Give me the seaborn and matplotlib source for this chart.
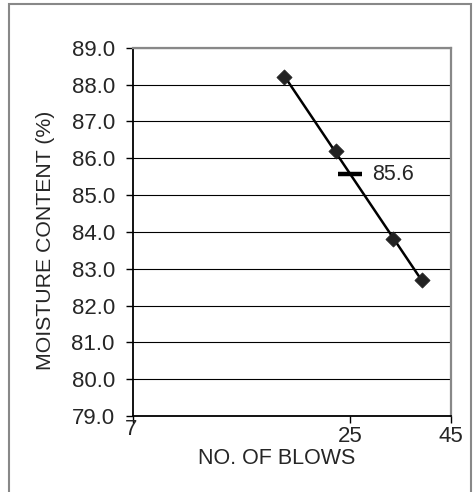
import numpy as np
import pandas as pd
import matplotlib
matplotlib.use("Agg")
import matplotlib.pyplot as plt
import matplotlib.transforms as mtransforms
from matplotlib.patches import Rectangle
import seaborn as sns

sns.set_style("white")
plt.rcParams['font.family'] = ['Liberation Sans', 'DejaVu Sans']

# liquid limit test
blows = [17, 23, 32, 38]
moisture = [88.2, 86.2, 83.8, 82.7]
target_blows = 25
x_ticks = [7, 25, 45]
y_ticks = np.arange(79, 89.1, 1.0)

df = pd.DataFrame({"blows": blows, "moisture": moisture})

# semi-log trend line
b, a = np.polyfit(np.log10(df["blows"]), df["moisture"], 1)
trend = pd.DataFrame({"blows": [min(blows), max(blows)]})
trend["moisture"] = a + b * np.log10(trend["blows"])
ll = a + b * np.log10(target_blows)

fig = plt.figure(figsize=(4.73, 4.92), dpi=100)
ax = fig.add_axes([0.281, 0.1545, 0.672, 0.7485])

sns.lineplot(data=trend, x="blows", y="moisture", ax=ax, color="black", lw=1.8)
sns.scatterplot(data=df, x="blows", y="moisture", ax=ax, marker="D", s=60,
                color="#222222", edgecolor="#222222", linewidth=0.5, zorder=5)
ax.plot([target_blows], [ll], marker="_", ms=17, mew=3.2, color="black", zorder=6)
ax.annotate(f"{ll:.1f}", (target_blows, ll), xytext=(16, 0), textcoords="offset points",
            va="center", ha="left", fontsize=15.5)

ax.set_xscale("log")
ax.set_xlim(7, 45)
ax.set_ylim(79, 89)
ax.set_xticks(x_ticks)
ax.set_xticklabels([str(t) for t in x_ticks])
ax.xaxis.set_minor_locator(matplotlib.ticker.NullLocator())
ax.set_yticks(y_ticks)
ax.set_yticklabels([f"{t:.1f}" for t in y_ticks])

ax.grid(True, axis="y", color="black", lw=0.8)
ax.grid(False, axis="x")
ax.set_axisbelow(True)

ax.tick_params(axis="y", direction="out", length=5, width=1, color="black",
               labelsize=16, pad=8, left=True)
ax.tick_params(axis="x", direction="out", length=5, width=1, color="black",
               labelsize=16, pad=2, bottom=True)

# excel puts the first log label higher
lab7 = ax.get_xticklabels()[0]
lab7.set_transform(lab7.get_transform() + mtransforms.ScaledTranslation(-1 / 72, 5 / 72, fig.dpi_scale_trans))

for s in ["left", "bottom"]:
    ax.spines[s].set_color("black")
    ax.spines[s].set_linewidth(1.3)
for s in ["top", "right"]:
    ax.spines[s].set_color("#888888")
    ax.spines[s].set_linewidth(1.6)

ax.set_xlabel("NO. OF BLOWS", fontsize=15.5)
ax.set_ylabel("MOISTURE CONTENT (%)", fontsize=15.3)
ax.xaxis.set_label_coords(0.453, -0.087)
ax.yaxis.set_label_coords(-0.245, 0.476)

fig.patches.append(Rectangle((9 / 473, -0.05), 462 / 473, 1 - 3.5 / 492 + 0.05,
                             transform=fig.transFigure, fill=False,
                             edgecolor="#888888", lw=1.5))

plt.savefig("out.png", dpi=100)
plt.close()
